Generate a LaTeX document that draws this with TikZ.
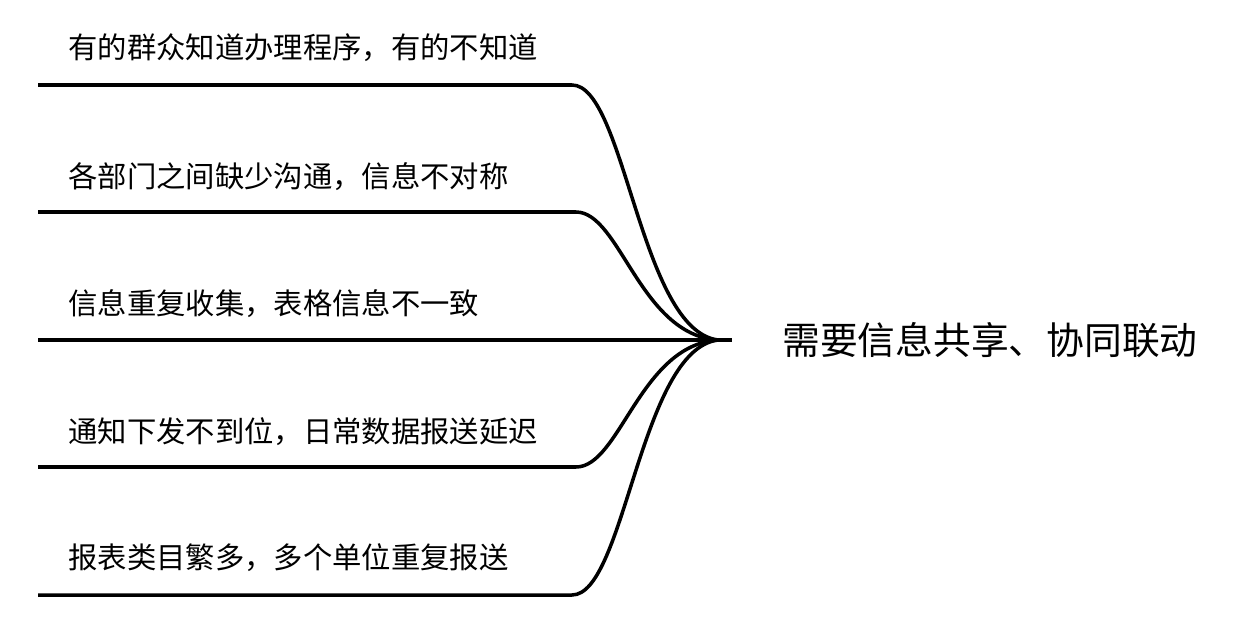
\documentclass[tikz,border=0pt]{standalone}
\usepackage{fontspec}
\newfontfamily\cjk{Noto Sans CJK SC}
\begin{document}
\begin{tikzpicture}[x=0.02cm,y=-0.02cm]
        \tikzstyle{reason}=[anchor=west,inner sep=0pt,font=\cjk\fontsize{16.7pt}{18pt}\selectfont]
        \tikzstyle{goal}=[anchor=center,inner sep=0pt,font=\cjk\fontsize{21.5pt}{24pt}\selectfont]
        \tikzstyle{branch}=[draw=black,line width=2pt]
        \useasboundingbox (0,0) rectangle (1248,629);
       \begin{scope}
         \coordinate (s1) at (38,85);
         \coordinate (s2) at (38,212);
         \coordinate (s3) at (38,340);
         \coordinate (s4) at (38,467);
         \coordinate (s5) at (38,595);
         \coordinate (b1) at (572,85);
         \coordinate (b2) at (576,212);
         \coordinate (b4) at (576,467);
         \coordinate (b5) at (572,595);
         \coordinate (hub) at (718,340);
         \coordinate (tip) at (732,340);
         \node [reason] (r1) at (68,48) {有的群众知道办理程序，有的不知道};
         \node [reason] (r2) at (68,177) {各部门之间缺少沟通，信息不对称};
         \node [reason] (r3) at (68,304) {信息重复收集，表格信息不一致};
         \node [reason] (r4) at (68,432) {通知下发不到位，日常数据报送延迟};
         \node [reason] (r5) at (68,558) {报表类目繁多，多个单位重复报送};
         \node [goal] (need) at (990,340) {需要信息共享、协同联动};
         \path[branch] (s1) -- (b1) .. controls (625,85) and (640,330) .. (hub);
         \path[branch] (s2) -- (b2) .. controls (620,212) and (640,335) .. (hub);
         \path[branch] (s3) -- (tip);
         \path[branch] (s4) -- (b4) .. controls (620,467) and (640,345) .. (hub);
         \path[branch] (s5) -- (b5) .. controls (625,595) and (640,350) .. (hub);
        \end{scope}
      \end{tikzpicture}
\end{document}
